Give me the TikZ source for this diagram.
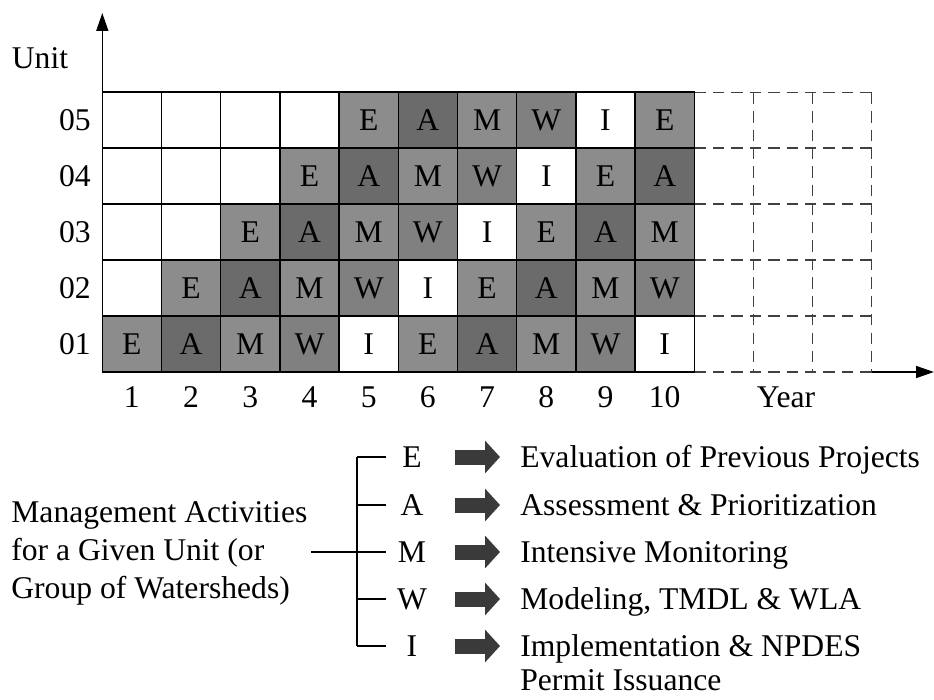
\documentclass[tikz,border=0pt]{standalone}
\usepackage{fontspec}
\setmainfont{Liberation Serif}
\usepackage{xcolor}
\usetikzlibrary{arrows.meta,positioning,calc}
\definecolor{shadeE}{gray}{0.55}
\definecolor{shadeA}{gray}{0.42}
\definecolor{shadeM}{gray}{0.55}
\definecolor{shadeW}{gray}{0.50}
\definecolor{arrowc}{RGB}{58,58,58}

\tikzset{
  txt/.style={font=\fontsize{18}{21.5}\selectfont, inner sep=0pt, text height=11.9pt, text depth=0pt},
  cell/.style={txt, draw, line width=0.9pt, minimum width=1.184cm, minimum height=1.12cm, outer sep=0pt},
  actE/.style={fill=shadeE}, actA/.style={fill=shadeA}, actM/.style={fill=shadeM},
  actW/.style={fill=shadeW}, actI/.style={fill=white}, actX/.style={fill=white},
  future/.style={line width=0.6pt, black!75, dash pattern=on 6.5pt off 4pt},
  axis/.style={line width=0.9pt, -{Triangle[length=0.36cm,width=0.24cm]}},
  fatarrow/.style={arrowc, line width=0.3cm, -{Triangle[length=0.3cm,width=0.64cm]}}
}

\begin{document}
\begin{tikzpicture}[x=0.02cm, y=-0.02cm]
  \useasboundingbox (0,0) rectangle (934,700);

  % planned years beyond the schedule (dashed)
  \foreach \yy in {92.7,148,204,260,316,372}
    \draw[future] (694.3,\yy) -- (871.9,\yy);
  \foreach \xx in {753.5,812.7,871.9}
    \draw[future] (\xx,92.7) -- (\xx,372);

  % rotating schedule: unit r starts its cycle E-A-M-W-I in year r
  \foreach \r in {1,...,5} {
    \foreach \i in {1,...,10} {
      \pgfmathtruncatemacro\k{mod(\i-\r+5,5)}
      \ifnum\i<\r \def\L{X}\def\T{}\else
        \edef\L{\ifcase\k E\or A\or M\or W\or I\fi}\let\T\L\fi
      \node[cell, act\L] (c-\r-\i) at ({102.3+(\i-0.5)*59.2},{372-(\r-0.5)*56}) {\T};
    }
    \node[txt, anchor=east] (u-\r) at (91,{372-(\r-0.5)*56}) {0\r};
  }
  \foreach \i in {1,...,10}
    \node[txt] (y-\i) at ({102.3+(\i-0.5)*59.2},397) {\i};

  % axes
  \coordinate (origin) at (102.3,372);
  \coordinate (ytip) at (102.3,13);
  \coordinate (xend) at (871.9,372);
  \coordinate (xtip) at (934,372);
  \draw[axis] (origin) -- (ytip);
  \draw[axis] (xend) -- (xtip);
  \node[txt] (unit) at (40,58) {Unit};
  \node[txt] (year) at (786,397) {Year};

  % legend
  \node[txt, text height=, align=left, font=\fontsize{18}{21.5}\selectfont, anchor=west]
    (mgmt) at (11,550) {Management Activities\\for a Given Unit (or\\Group of Watersheds)};
  \coordinate (br) at (357,552);
  \foreach \a/\yy/\desc in {E/457/Evaluation of Previous Projects,
                            A/505/Assessment \& Prioritization,
                            M/552/Intensive Monitoring,
                            W/599/{Modeling, TMDL \& WLA},
                            I/646/Implementation \& NPDES} {
    \node[txt] (l\a) at (412,\yy) {\a};
    \coordinate (k\a) at (357,\yy);
    \draw[line width=0.9pt] (k\a) -- ++(29,0);
    \draw[fatarrow] ($(l\a)+(43,0)$) -- ($(l\a)+(88,0)$);
    \node[txt, anchor=west] (d\a) at ($(l\a)+(108,0)$) {\desc};
  }
  \node[txt, anchor=west] (dI2) at ($(dI.west)+(0,34)$) {Permit Issuance};
  \draw[line width=0.9pt] (kE) -- (kI);
  \draw[line width=0.9pt] ([xshift=2pt]mgmt.east |- br) -- (br);
\end{tikzpicture}
\end{document}
